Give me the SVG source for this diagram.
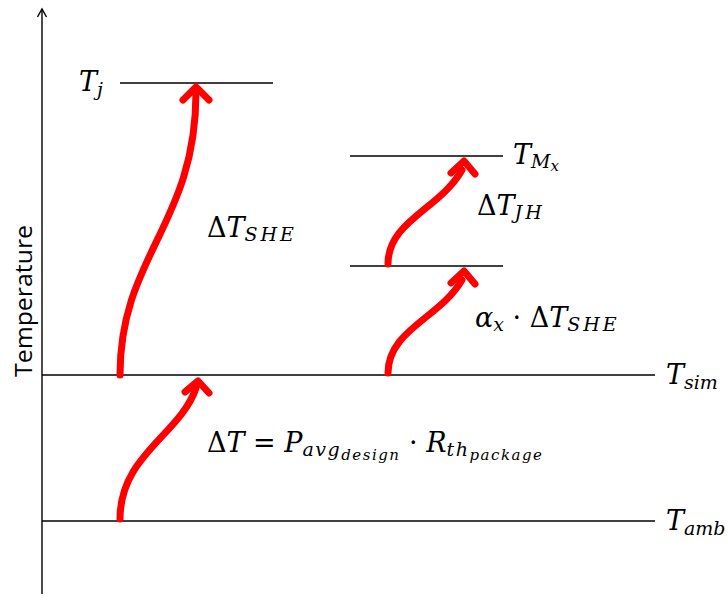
<svg xmlns="http://www.w3.org/2000/svg" width="728" height="598" viewBox="0 0 728 598">
<style>
.lvl{stroke:#000;stroke-width:1.4;fill:none}
.arr{stroke:#f00;stroke-width:7;fill:none;stroke-linecap:round;stroke-linejoin:round}
.m{font-family:'DejaVu Serif','Liberation Serif',serif;font-size:27px;fill:#000}
.i{font-style:italic}
.s{font-size:19px}
.ss{font-size:15px}
.ls{letter-spacing:3px}
.l1{letter-spacing:1.5px}
.ax{font-family:'Open Sans','Liberation Sans',sans-serif;font-size:23px;fill:#000}
</style>
<rect width="728" height="598" fill="#fff"/>
<g id="axis">
<line x1="42" y1="594" x2="42" y2="10" class="lvl"/>
<path d="M37.5,17 L42,9 L46.5,17" class="lvl"/>
<text class="ax" transform="translate(32,301) rotate(-90)" text-anchor="middle" textLength="152" lengthAdjust="spacingAndGlyphs">Temperature</text>
</g>
<g id="levels">
<g id="Tj"><line x1="120" y1="83" x2="273" y2="83" class="lvl"/><text class="m" x="79" y="91"><tspan class="i">T</tspan><tspan class="i s" dy="5">j</tspan></text></g>
<g id="TMx"><line x1="350" y1="156" x2="503" y2="156" class="lvl"/><text class="m" x="513" y="164"><tspan class="i">T</tspan><tspan class="i s" dy="4">M</tspan><tspan class="i ss" dy="3">x</tspan></text></g>
<g id="Tmid"><line x1="350" y1="266" x2="503" y2="266" class="lvl"/></g>
<g id="Tsim"><line x1="42" y1="375" x2="655" y2="375" class="lvl"/><text class="m" x="666" y="384"><tspan class="i">T</tspan><tspan class="i s" dy="5">sim</tspan></text></g>
<g id="Tamb"><line x1="42" y1="521" x2="655" y2="521" class="lvl"/><text class="m" x="666" y="530"><tspan class="i">T</tspan><tspan class="i s" dy="5">amb</tspan></text></g>
</g>
<g id="connectors">
<path d="M120,375 C120,255 196,225 196,92" class="arr"/>
<path d="M183,100 L196,87 L209,100" class="arr"/>
<path d="M120,519 C120,455 180,435 196,388" class="arr"/>
<path d="M185,392 L198,381 L209,393" class="arr"/>
<path d="M388,373 C388,330 440,318 462,280" class="arr"/>
<path d="M451,283 L464,271 L475,284" class="arr"/>
<path d="M388,264 C388,221 440,209 462,170" class="arr"/>
<path d="M451,173 L464,161 L475,174" class="arr"/>
</g>
<g id="labels">
<text class="m" x="207" y="237">Δ<tspan class="i">T</tspan><tspan class="i s ls" dy="4">SHE</tspan></text>
<text class="m" x="477" y="215">Δ<tspan class="i">T</tspan><tspan class="i s ls" dy="4">JH</tspan></text>
<text class="m" x="475" y="327"><tspan class="i">α</tspan><tspan class="i s" dy="4">x</tspan><tspan dy="-4"> · Δ</tspan><tspan class="i">T</tspan><tspan class="i s ls" dy="4">SHE</tspan></text>
<text class="m" x="207" y="452">Δ<tspan class="i">T</tspan> = <tspan class="i">P</tspan><tspan class="i s l1" dy="4">avg</tspan><tspan class="i ss l1" dy="4">design</tspan><tspan dy="-8"> · </tspan><tspan class="i">R</tspan><tspan class="i s l1" dy="4">th</tspan><tspan class="i ss l1" dy="4">package</tspan></text>
</g>
</svg>
